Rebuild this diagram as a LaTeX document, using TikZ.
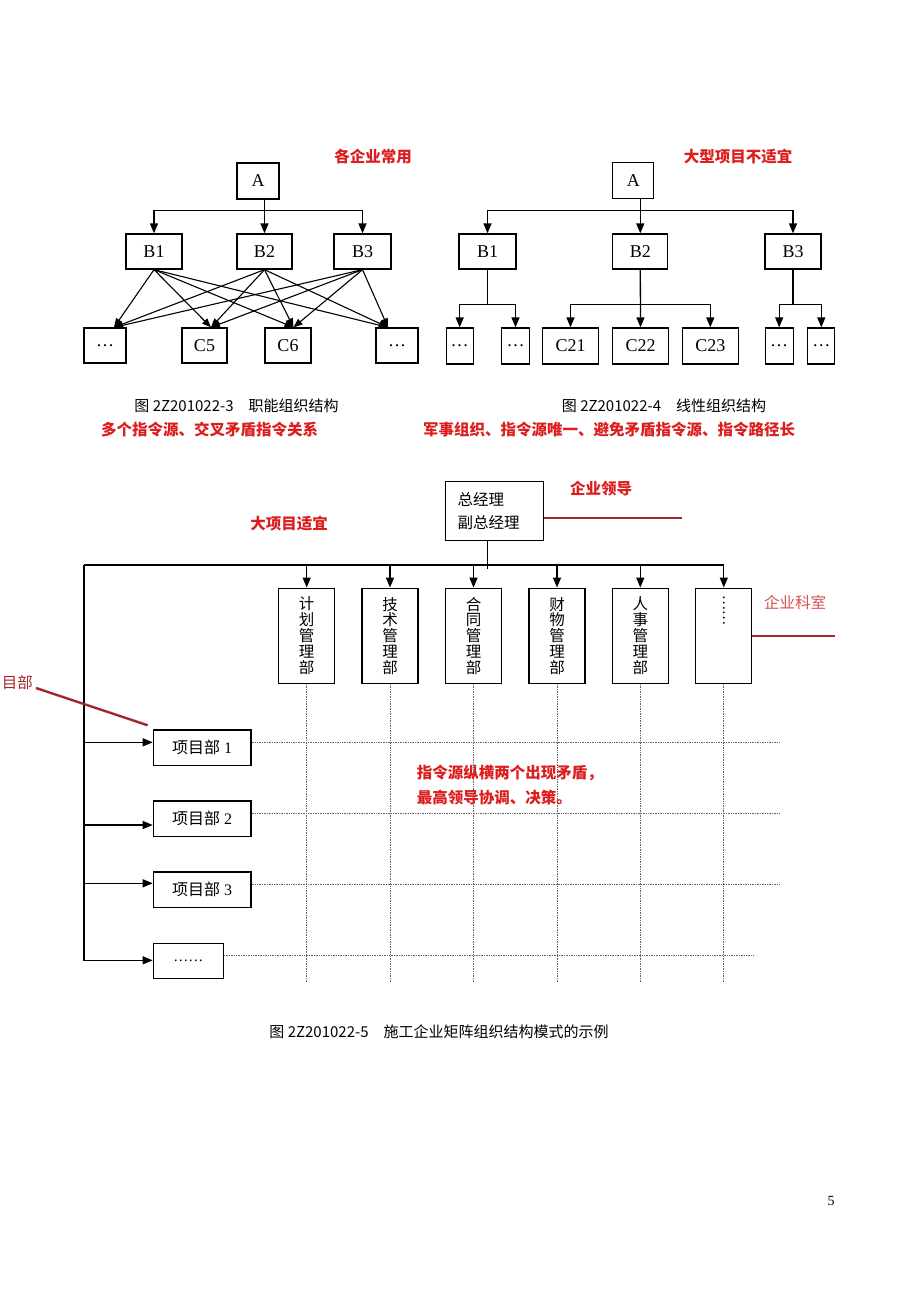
\documentclass[tikz,border=0pt]{standalone}
\usepackage{fontspec}
\usepackage{graphicx}
\setmainfont{Liberation Serif}
\newfontfamily\cjk{Noto Sans CJK SC}
\usetikzlibrary{arrows.meta}
\definecolor{redtext}{RGB}{220,30,30}
\definecolor{redline}{RGB}{165,40,40}
\definecolor{redsoft}{RGB}{215,80,80}
\definecolor{gridgray}{RGB}{100,100,100}
\begin{document}
\begin{tikzpicture}[x=1pt,y=-1pt,
  box/.style={draw, line width=1.3pt, inner sep=0pt, font=\fontsize{18}{20}\selectfont},
  arr/.style={line width=1.3pt, -{Triangle[length=10pt,width=8pt]}},
  ln/.style={line width=1.3pt},
  xline/.style={line width=1.1pt, -{Triangle[length=9pt,width=7pt]}},
  gridln/.style={gridgray, line width=0.7pt, densely dotted},
  redlead/.style={redline, line width=2.4pt},
  redlab/.style={text=redtext, font=\cjk\bfseries\fontsize{15.5}{25}\selectfont, inner sep=0pt},
  captxt/.style={font=\cjk\fontsize{15}{18}\selectfont, inner sep=0pt},
  dept/.style={box, minimum width=56pt, minimum height=95pt, align=center, font=\cjk\fontsize{15.5}{15.8}\selectfont},
  proj/.style={box, minimum width=97.7pt, minimum height=35.7pt, font=\fontsize{16}{18}\selectfont},
]
\fill[white] (0,0) rectangle (920,1302);
\useasboundingbox (0,0) rectangle (920,1302);

% ---------- top-left: functional structure ----------
\node[box, minimum width=42pt, minimum height=36pt] (LA) at (258,181) {A};
\node[box, minimum width=56pt, minimum height=35pt] (LB1) at (154,251.5) {B1};
\node[box, minimum width=55pt, minimum height=35pt] (LB2) at (264.5,251.5) {B2};
\node[box, minimum width=57pt, minimum height=35pt] (LB3) at (362.5,251.5) {B3};
\node[box, minimum width=42pt, minimum height=35pt] (LC1) at (105,345.5) {…};
\node[box, minimum width=45pt, minimum height=35pt] (LC5) at (204.5,345.5) {C5};
\node[box, minimum width=46pt, minimum height=35pt] (LC6) at (288,345.5) {C6};
\node[box, minimum width=42pt, minimum height=35pt] (LC4) at (397,345.5) {…};

\draw[arr] (LA.south -| LB2.north) -- (LB2.north);
\draw[arr] (LA.south -| LB2.north) -- ++(0,11) -| (LB1.north);
\draw[arr] (LA.south -| LB2.north) -- ++(0,11) -| (LB3.north);

\foreach \s in {LB1,LB2,LB3}{
  \draw[xline] (\s.south) -- ([xshift=9pt]LC1.north);
  \draw[xline] (\s.south) -- ([xshift=6.5pt]LC5.north);
  \draw[xline] (\s.south) -- ([xshift=5.5pt]LC6.north);
  \draw[xline] (\s.south) -- ([xshift=-9pt]LC4.north);
}

\node[redlab] (lab1) at (373,157) {各企业常用};
\node[captxt] (cap1) at (236.5,406) {图 2Z201022-3\quad 职能组织结构};
\node[redlab] (lab2) at (209.5,430) {多个指令源、交叉矛盾指令关系};

% ---------- top-right: linear structure ----------
\node[box, minimum width=41pt, minimum height=36pt] (RA) at (633.3,180.5) {A};
\node[box, minimum width=57pt, minimum height=35pt] (RB1) at (487.5,251.5) {B1};
\node[box, minimum width=55pt, minimum height=35pt] (RB2) at (640.3,251.5) {B2};
\node[box, minimum width=56pt, minimum height=35pt] (RB3) at (793,251.5) {B3};
\node[box, minimum width=27pt, minimum height=36pt] (RC1) at (459.7,346) {…};
\node[box, minimum width=28pt, minimum height=36pt] (RC2) at (515.5,346) {…};
\node[box, minimum width=56pt, minimum height=36pt] (RC21) at (570.5,346) {C21};
\node[box, minimum width=56pt, minimum height=36pt] (RC22) at (640.5,346) {C22};
\node[box, minimum width=56pt, minimum height=36pt] (RC23) at (710.3,346) {C23};
\node[box, minimum width=28pt, minimum height=36pt] (RC6) at (779.2,346) {…};
\node[box, minimum width=27pt, minimum height=36pt] (RC7) at (821.3,346) {…};

\draw[arr] (RA.south -| RB2.north) -- (RB2.north);
\draw[arr] (RA.south -| RB2.north) -- ++(0,11.5) -| (RB1.north);
\draw[arr] (RA.south -| RB2.north) -- ++(0,11.5) -| (RB3.north);

\draw[arr] (RB1.south) -- ++(0,35) -| (RC1.north);
\draw[arr] (RB1.south) -- ++(0,35) -| (RC2.north);
\draw[arr] (RB2.south) -- (RC22.north);
\draw[arr] (RB2.south) -- ++(0,35) -| (RC21.north);
\draw[arr] (RB2.south) -- ++(0,35) -| (RC23.north);
\draw[arr] (RB3.south) -- ++(0,35) -| (RC6.north);
\draw[arr] (RB3.south) -- ++(0,35) -| (RC7.north);

\node[redlab] (lab3) at (738,157) {大型项目不适宜};
\node[captxt] (cap2) at (664,406) {图 2Z201022-4\quad 线性组织结构};
\node[redlab] (lab4) at (609,430) {军事组织、指令源唯一、避免矛盾指令源、指令路径长};

% ---------- matrix structure ----------
\node[box, minimum width=98pt, minimum height=59pt, text width=74pt, inner xsep=12pt,
      align=left, font=\cjk\fontsize{15.5}{23.5}\selectfont] (mgr) at (494.5,511.3) {总经理\\副总经理};

\coordinate (hL) at (84,565);
\node[dept] (d1) at (306.7,635.7) {计\\划\\管\\理\\部};
\node[dept] (d2) at (390,635.7) {技\\术\\管\\理\\部};
\node[dept] (d3) at (473.5,635.7) {合\\同\\管\\理\\部};
\node[dept] (d4) at (557,635.7) {财\\物\\管\\理\\部};
\node[dept] (d5) at (640.3,635.7) {人\\事\\管\\理\\部};
\node[dept] (d6) at (723.8,635.7) {};
\node[rotate=-90, anchor=west, inner sep=0pt, font=\cjk\fontsize{14}{14}\selectfont] (d6t) at ([yshift=-8pt]d6.north) {……};

\draw[ln] (hL) -- (hL -| d6.north);
\draw[ln] ([xshift=-7pt]mgr.south) -- ++(0,28);
\foreach \d in {d1,d2,d3,d4,d5,d6}{
  \draw[arr] (hL -| \d.north) -- (\d.north);
}

\node[proj] (P1) at (202.2,747.8) {{\cjk 项目部} 1};
\node[proj] (P2) at (202.2,818.8) {{\cjk 项目部} 2};
\node[proj] (P3) at (202.2,889.8) {{\cjk 项目部} 3};
\node[box, minimum width=70pt, minimum height=35pt, font=\fontsize{15}{18}\selectfont] (P4) at (188.3,960.8) {……};

\draw[ln] (hL) -- (hL |- P4.west);
\draw[arr] ([yshift=5.5pt]P1.west -| hL) -- ([yshift=5.5pt]P1.west);
\draw[arr] ([yshift=-6.2pt]P2.west -| hL) -- ([yshift=-6.2pt]P2.west);
\draw[arr] ([yshift=6.5pt]P3.west -| hL) -- ([yshift=6.5pt]P3.west);
\draw[arr] ([yshift=0.5pt]P4.west -| hL) -- ([yshift=0.5pt]P4.west);

% dotted grid
\coordinate (gB) at (0,982);
\coordinate (gR) at (780,0);
\coordinate (gR2) at (753,0);
\foreach \d in {d1,d2,d3,d4,d5,d6}{
  \draw[gridln] (\d.south) -- (\d.south |- gB);
}
\foreach \p in {P1,P2,P3}{
  \draw[gridln] ([yshift=5.5pt]\p.east) -- ([yshift=5.5pt]\p.east -| gR);
}
\draw[gridln] ([yshift=5pt]P4.east) -- ([yshift=5pt]P4.east -| gR2);

% red annotations
\node[redlab] (lab5) at (289,524) {大项目适宜};
\node[redlab] (lab6) at (601,489) {企业领导};
\coordinate (leadEnd) at (682,517.7);
\draw[redlead] ([yshift=-6.4pt]mgr.east) -- ([yshift=-6.4pt]mgr.east -| leadEnd);
\node[redlab, text=redsoft, font=\cjk\fontsize{15.5}{18}\selectfont] (lab7) at (795,603) {企业科室};
\coordinate (deptEnd) at (835,0);
\draw[redlead] (d6.east) -- (d6.east -| deptEnd);
\node[redlab, text=redline, font=\cjk\fontsize{15.5}{18}\selectfont, anchor=east] (lab8) at (33,683) {目部};
\draw[redlead] ([xshift=3pt,yshift=-5pt]lab8.east) -- ([shift={(-5pt,4pt)}]P1.north west);

\node[redlab, anchor=west, align=left] (lab9) at (416.7,785) {指令源纵横两个出现矛盾，\\最高领导协调、决策。};

\node[captxt] (cap3) at (439,1032) {图 2Z201022-5\quad 施工企业矩阵组织结构模式的示例};

\node[inner sep=0pt, font=\fontsize{14}{16}\selectfont] (pg) at (831,1201) {5};
\end{tikzpicture}
\end{document}
